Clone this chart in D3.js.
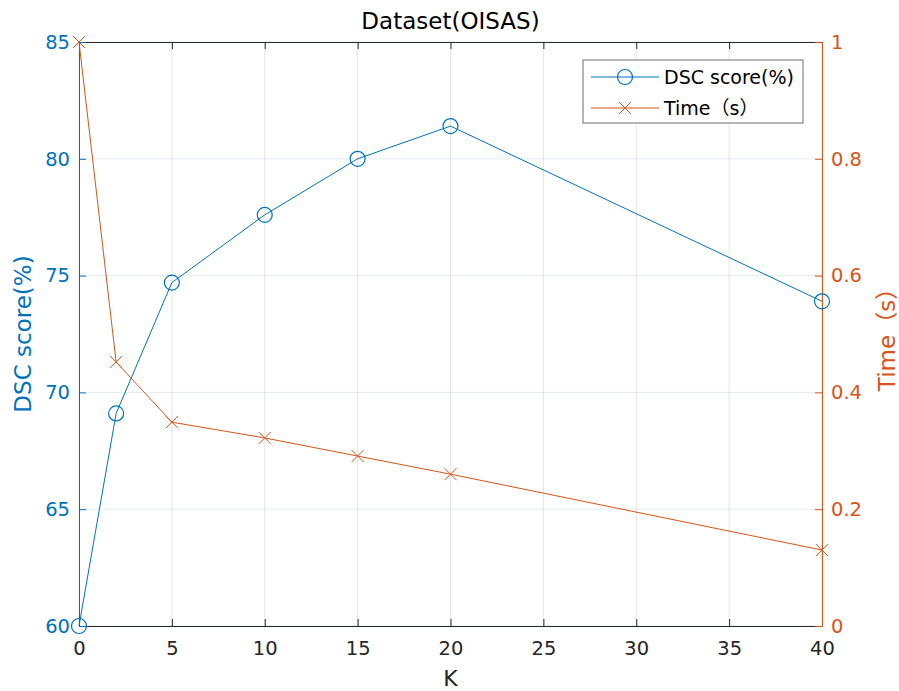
<!DOCTYPE html>
<html>
<head>
<meta charset="utf-8">
<script src="https://cdn.jsdelivr.net/npm/d3@7"></script>
<style>
  body { margin: 0; background: #fff; }
  text { font-family: "DejaVu Sans", "Noto Sans CJK SC", sans-serif; }
</style>
</head>
<body>
<div id="chart"></div>
<script>
const kValues = [0, 2, 5, 10, 15, 20, 40]
const dscScores = [60, 69.1, 74.7, 77.6, 80.0, 81.4, 73.9]
const timeSec = [1.0, 0.452, 0.349, 0.322, 0.291, 0.260, 0.130]
const xTicks = [0, 5, 10, 15, 20, 25, 30, 35, 40]
const leftTicks = [60, 65, 70, 75, 80, 85]
const rightTicks = [0, 0.2, 0.4, 0.6, 0.8, 1]

const blue = '#0072BD'
const orange = '#D95319'
const dark = '#262626'

const width = 899
const height = 691
const margin = { top: 42, right: 77, bottom: 65, left: 79 }
const innerW = width - margin.left - margin.right
const innerH = height - margin.top - margin.bottom

const svg = d3.select('#chart').append('svg')
  .attr('width', width).attr('height', height)

const g = svg.append('g').attr('transform', `translate(${margin.left},${margin.top})`)

const x = d3.scaleLinear().domain([0, 40]).range([0, innerW])
const yL = d3.scaleLinear().domain([60, 85]).range([innerH, 0])
const yR = d3.scaleLinear().domain([0, 1]).range([innerH, 0])

// grid
g.append('g').selectAll('line').data(xTicks).join('line')
  .attr('x1', d => x(d)).attr('x2', d => x(d))
  .attr('y1', 0).attr('y2', innerH)
  .attr('stroke', dark).attr('stroke-opacity', 0.12)
g.append('g').selectAll('line').data(leftTicks).join('line')
  .attr('x1', 0).attr('x2', innerW)
  .attr('y1', d => yL(d)).attr('y2', d => yL(d))
  .attr('stroke', blue).attr('stroke-opacity', 0.12)

// bottom axis
const xAxis = g.append('g').attr('transform', `translate(0,${innerH})`)
  .call(d3.axisBottom(x).tickValues(xTicks).tickSizeInner(-7).tickSizeOuter(0).tickPadding(15))
xAxis.select('.domain').attr('stroke', dark)
xAxis.selectAll('.tick line').attr('stroke', dark)
xAxis.selectAll('text').attr('fill', dark).attr('font-size', 19.5)

// top axis (box)
const topAxis = g.append('g')
  .call(d3.axisTop(x).tickValues(xTicks).tickSizeInner(-7).tickSizeOuter(0).tickFormat(''))
topAxis.select('.domain').attr('stroke', dark)
topAxis.selectAll('.tick line').attr('stroke', dark)

// left axis
const leftAxis = g.append('g')
  .call(d3.axisLeft(yL).tickValues(leftTicks).tickSizeInner(-7).tickSizeOuter(0).tickPadding(9))
leftAxis.select('.domain').attr('stroke', blue)
leftAxis.selectAll('.tick line').attr('stroke', blue)
leftAxis.selectAll('text').attr('fill', blue).attr('font-size', 19.5)

// right axis
const rightAxis = g.append('g').attr('transform', `translate(${innerW},0)`)
  .call(d3.axisRight(yR).tickValues(rightTicks).tickSizeInner(-7).tickSizeOuter(0).tickPadding(9)
    .tickFormat(d3.format('~g')))
rightAxis.select('.domain').attr('stroke', orange)
rightAxis.selectAll('.tick line').attr('stroke', orange)
rightAxis.selectAll('text').attr('fill', orange).attr('font-size', 19.5)

// -- DSC line
const dscData = kValues.map((k, i) => [k, dscScores[i]])
g.append('path').datum(dscData)
  .attr('fill', 'none').attr('stroke', blue).attr('stroke-width', 1)
  .attr('d', d3.line().x(d => x(d[0])).y(d => yL(d[1])))
g.append('g').selectAll('circle').data(dscData).join('circle')
  .attr('cx', d => x(d[0])).attr('cy', d => yL(d[1])).attr('r', 7.5)
  .attr('fill', 'none').attr('stroke', blue).attr('stroke-width', 1.2)

// -- Time line
const timeData = kValues.map((k, i) => [k, timeSec[i]])
g.append('path').datum(timeData)
  .attr('fill', 'none').attr('stroke', orange).attr('stroke-width', 1)
  .attr('d', d3.line().x(d => x(d[0])).y(d => yR(d[1])))
const crossPath = s => `M${-s},${-s}L${s},${s}M${-s},${s}L${s},${-s}`
g.append('g').selectAll('path').data(timeData).join('path')
  .attr('transform', d => `translate(${x(d[0])},${yR(d[1])})`)
  .attr('d', crossPath(6))
  .attr('fill', 'none').attr('stroke', orange).attr('stroke-width', 1)

// title & labels
svg.append('text').attr('x', margin.left + innerW / 2).attr('y', 29)
  .attr('text-anchor', 'middle').attr('font-size', 23).attr('fill', '#000')
  .text('Dataset(OISAS)')
svg.append('text').attr('x', margin.left + innerW / 2).attr('y', 686)
  .attr('text-anchor', 'middle').attr('font-size', 22).attr('fill', dark)
  .text('K')
svg.append('text')
  .attr('transform', `translate(31,${margin.top + innerH / 2}) rotate(-90)`)
  .attr('text-anchor', 'middle').attr('font-size', 23).attr('fill', blue)
  .text('DSC score(%)')
svg.append('text')
  .attr('transform', `translate(895,${margin.top + innerH / 2}) rotate(-90)`)
  .attr('text-anchor', 'middle').attr('font-size', 23).attr('fill', orange)
  .text('Time（s）')

// legend
const legend = svg.append('g').attr('transform', 'translate(583,60)')
legend.append('rect').attr('width', 220).attr('height', 63)
  .attr('fill', '#fff').attr('stroke', '#6e6e6e').attr('stroke-width', 1)
const items = [
  { label: 'DSC score(%)', color: blue, marker: 'circle' },
  { label: 'Time（s）', color: orange, marker: 'cross' }
]
items.forEach((it, i) => {
  const yy = 17 + i * 31
  legend.append('line').attr('x1', 8).attr('x2', 76).attr('y1', yy).attr('y2', yy)
    .attr('stroke', it.color).attr('stroke-width', 1)
  if (it.marker === 'circle') {
    legend.append('circle').attr('cx', 42).attr('cy', yy).attr('r', 7.5)
      .attr('fill', 'none').attr('stroke', it.color).attr('stroke-width', 1.2)
  } else {
    legend.append('path').attr('transform', `translate(42,${yy})`).attr('d', crossPath(6))
      .attr('fill', 'none').attr('stroke', it.color)
  }
  legend.append('text').attr('x', 81).attr('y', yy + 7)
    .attr('font-size', 19).attr('fill', '#000').text(it.label)
})
</script>
</body>
</html>
